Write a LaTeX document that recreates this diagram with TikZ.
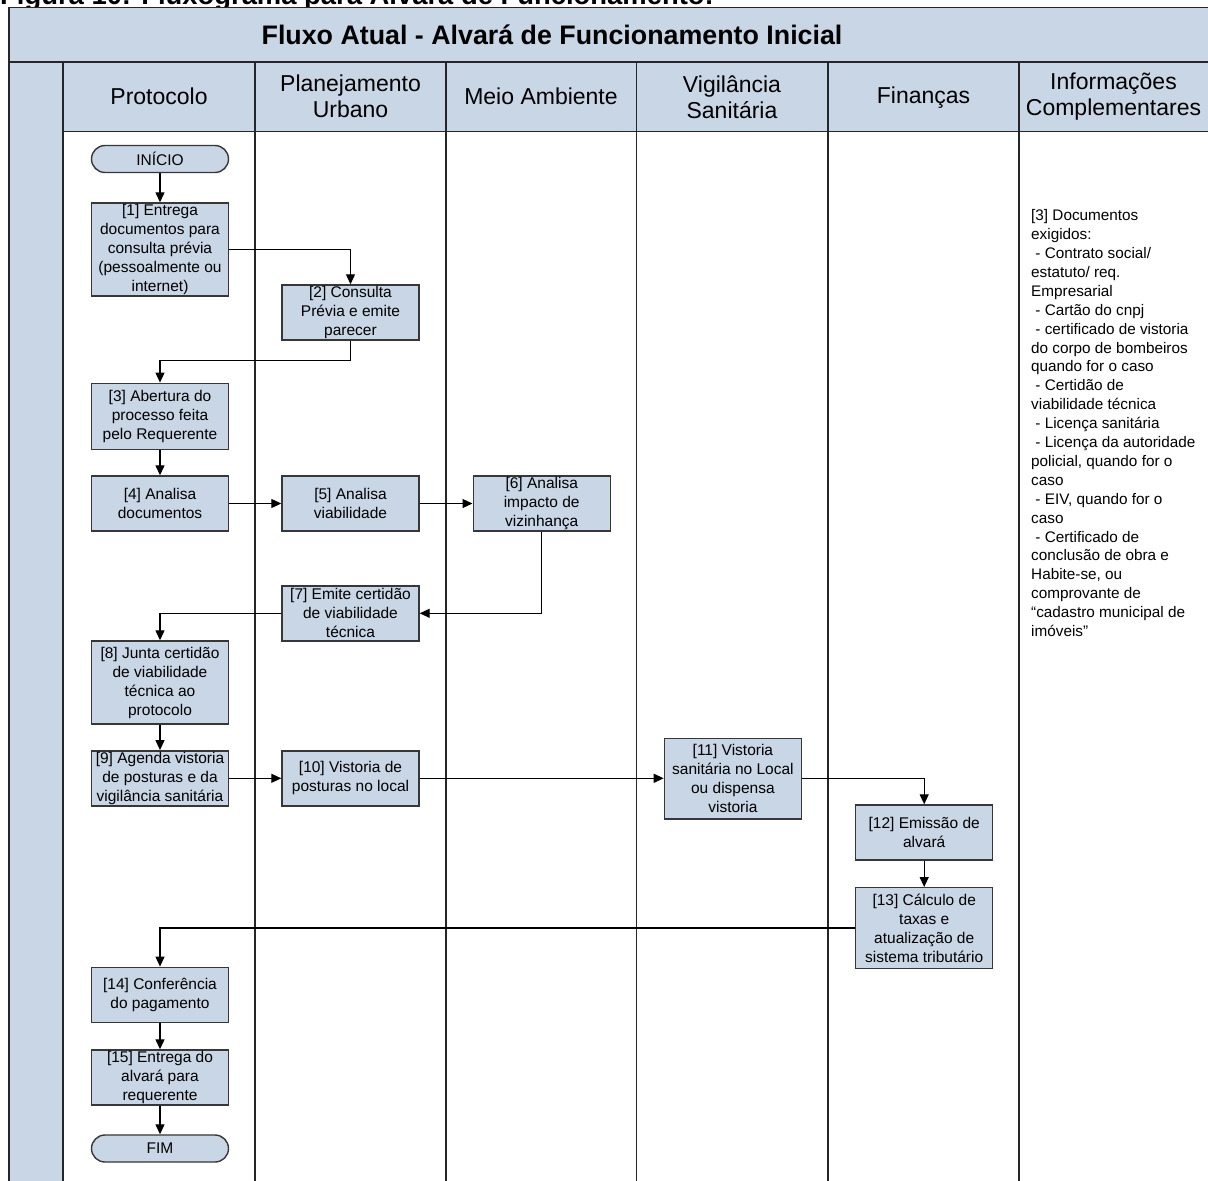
\documentclass[tikz,border=0pt]{standalone}
\usepackage{fontspec}
\setmainfont{Liberation Sans}
\usetikzlibrary{arrows.meta}
\definecolor{laneblue}{RGB}{201,214,229}
\definecolor{edgegray}{RGB}{55,55,55}
\begin{document}
\begin{tikzpicture}[x=1pt,y=-1pt,
  stepbox/.style={draw=edgegray, fill=laneblue, line width=1.4pt, minimum width=137pt, inner sep=0pt, align=center, font=\fontsize{15.5}{19}\selectfont},
  term/.style={stepbox, rounded corners=13.5pt, minimum height=27pt},
  flow/.style={draw=black, line width=1.2pt, -{Triangle[length=10pt,width=9pt]}},
  lane/.style={draw=black!85, line width=1.5pt},
  hdr/.style={align=center, font=\fontsize{23}{26}\selectfont},
  note/.style={align=left, inner sep=0pt, anchor=north west, font=\fontsize{15.3}{18.9}\selectfont}
]
\useasboundingbox (0,0) rectangle (1208,1181);
\clip (0,0) rectangle (1208,1181);
\fill[white] (0,0) rectangle (1208,1181);

% caption (mostly cut off at the top, as in the reference)
\node[anchor=base west, inner sep=0pt, font=\fontsize{27.4}{30}\selectfont\bfseries] (caption) at (0,4.5) {Figura 10: Fluxograma para Alvará de Funcionamento:};

% title band and header
\fill[laneblue] (9,7.5) rectangle (1210,131.5);
\fill[laneblue] (9,62) rectangle (63,1185);
\draw[lane] (9,1185) -- (9,7.5) -- (1210,7.5);
\draw[lane] (9,62) -- (1210,62);
\draw[lane] (63,131.5) -- (1210,131.5);
\foreach \xx in {63,255,446,636.5,828,1019} {
  \draw[lane] (\xx,62) -- (\xx,1185);
}

\node[font=\fontsize{26.8}{30}\selectfont\bfseries] (title) at (552,35) {Fluxo Atual - Alvará de Funcionamento Inicial};

\node[hdr] (h1) at (159,96.75) {Protocolo};
\node[hdr] (h2) at (350.5,96.75) {Planejamento\\Urbano};
\node[hdr] (h3) at (541,96.75) {Meio Ambiente};
\node[hdr] (h4) at (732,96.75) {Vigilância\\Sanitária};
\node[hdr] (h5) at (923.5,97.5) {Finanças};
\node[hdr] (h6) at (1113.5,96.75) {Informações\\Complementares};

% notes
\node[note] (notes) at (1031,209.5) {[3] Documentos\\
exigidos:\\
\hspace*{0.278em}- Contrato social/\\
estatuto/ req.\\
Empresarial\\
\hspace*{0.278em}- Cartão do cnpj\\
\hspace*{0.278em}- certificado de vistoria\\
do corpo de bombeiros\\
quando for o caso\\
\hspace*{0.278em}- Certidão de\\
viabilidade técnica\\
\hspace*{0.278em}- Licença sanitária\\
\hspace*{0.278em}- Licença da autoridade\\
policial, quando for o\\
caso\\
\hspace*{0.278em}- EIV, quando for o\\
caso\\
\hspace*{0.278em}- Certificado de\\
conclusão de obra e\\
Habite-se, ou\\
comprovante de\\
“cadastro municipal de\\
imóveis”};

% flow nodes
\node[term] (start) at (160,159) {INÍCIO};
\node[stepbox, minimum height=93pt] (n1) at (160,249.5) {[1] Entrega\\documentos para\\consulta prévia\\(pessoalmente ou\\internet)};
\node[stepbox, minimum height=55pt] (n2) at (350.5,312.5) {[2] Consulta\\Prévia e emite\\parecer};
\node[stepbox, minimum height=66pt] (n3) at (160,416.3) {[3] Abertura do\\processo feita\\pelo Requerente};
\node[stepbox, minimum height=55pt] (n4) at (160,503.5) {[4] Analisa\\documentos};
\node[stepbox, minimum height=55pt] (n5) at (350.5,503.5) {[5] Analisa\\viabilidade};
\node[stepbox, minimum height=55pt] (n6) at (541.7,503.5) {[6] Analisa\\impacto de\\vizinhança};
\node[stepbox, minimum height=55pt] (n7) at (350.5,613.3) {[7] Emite certidão\\de viabilidade\\técnica};
\node[stepbox, minimum height=83pt] (n8) at (160,682.5) {[8] Junta certidão\\de viabilidade\\técnica ao\\protocolo};
\node[stepbox, minimum height=55pt] (n9) at (160,778.3) {[9] Agenda vistoria\\de posturas e da\\vigilância sanitária};
\node[stepbox, minimum height=55pt] (n10) at (350.5,778.3) {[10] Vistoria de\\posturas no local};
\node[stepbox, minimum height=80.7pt] (n11) at (732.9,778.6) {[11] Vistoria\\sanitária no Local\\ou dispensa\\vistoria};
\node[stepbox, minimum height=55pt] (n12) at (924.2,832.5) {[12] Emissão de\\alvará};
\node[stepbox, minimum height=80.6pt] (n13) at (924.2,928) {[13] Cálculo de\\taxas e\\atualização de\\sistema tributário};
\node[stepbox, minimum height=55.4pt] (n14) at (160,995) {[14] Conferência\\do pagamento};
\node[stepbox, minimum height=55pt] (n15) at (160,1077.5) {[15] Entrega do\\alvará para\\requerente};
\node[term] (end) at (160,1148.5) {FIM};

% connectors
\draw[flow] (start) -- (n1);
\draw[flow] (n1.east) -| (n2.north);
\draw[flow] (n2.south) -- ++(0,20) -| (n3.north);
\draw[flow] (n3) -- (n4);
\draw[flow] (n4) -- (n5);
\draw[flow] (n5) -- (n6);
\draw[flow] (n6.south) |- (n7.east);
\draw[flow] (n7.west) -| (n8.north);
\draw[flow] (n8) -- (n9);
\draw[flow] (n9) -- (n10);
\draw[flow] (n10.east) -- (n11.west |- n10.east);
\draw[flow] (n11.east |- n10.east) -| (n12.north);
\draw[flow] (n12) -- (n13);
\draw[flow] (n13.west) -| (n14.north);
\draw[flow] (n14) -- (n15);
\draw[flow] (n15) -- (end);
\end{tikzpicture}
\end{document}
